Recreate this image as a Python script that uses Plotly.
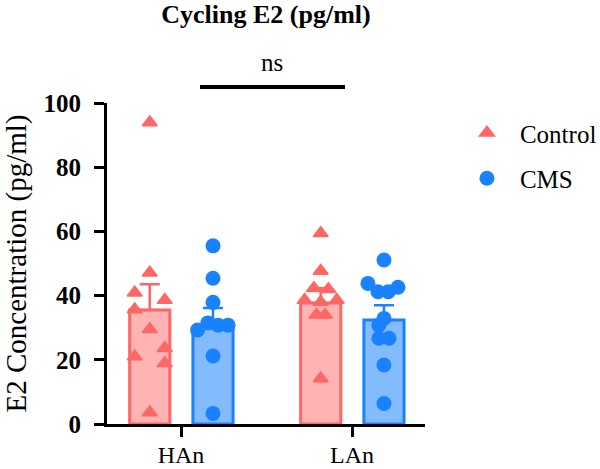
import numpy as np
import plotly.graph_objects as go

categories = ["HAn", "LAn"]
series_names = ["Control", "CMS"]

# bar heights (means) and SEM
control_mean = [35.5, 37.7]
control_sem = [8.0, 4.6]
cms_mean = [29.9, 32.4]
cms_sem = [6.2, 4.6]

# individual points
han_control = [93.9, 47.1, 40.9, 38.6, 35.7, 29.5, 23.6, 21.0, 18.9, 3.6]
lan_control = [59.4, 47.7, 42.3, 42.0, 38.6, 38.6, 38.0, 34.0, 34.0, 14.2]
han_cms = [55.5, 45.4, 37.9, 31.5, 29.3, 30.8, 30.8, 21.2, 3.3]
lan_cms = [51.1, 43.8, 42.6, 41.2, 41.2, 32.9, 30.8, 26.7, 26.7, 18.4, 6.4]

y_ticks = [0, 20, 40, 60, 80, 100]

# ---- layout / style (not data) ----
pos = np.arange(len(categories))
bar_w = 0.235
ctrl_center = -0.183
cms_center = 0.187
# horizontal scatter (jitter) of the points, in axis units
han_control_jit = [0, 0, -0.088, 0.088, -0.088, 0, 0.088, -0.088, 0.088, 0]
lan_control_jit = [0, 0, -0.04, 0.045, -0.094, 0.094, 0, -0.025, 0.025, 0]
han_cms_jit = [0, 0, 0, -0.03, -0.09, 0.03, 0.088, 0, 0]
lan_cms_jit = [0, -0.094, 0.082, -0.035, 0.025, 0, -0.03, -0.03, 0.03, 0, 0]

RED = "#FF6666"
RED_FILL = "#FFB3B3"
BLUE = "#1A82FF"
BLUE_FILL = "#82BCFF"
FONT = "Liberation Serif"

fig = go.Figure()

fig.add_trace(go.Bar(
    x=pos, y=control_mean, width=bar_w, offset=ctrl_center - bar_w / 2,
    marker=dict(color=RED_FILL, line=dict(color=RED, width=3)),
    error_y=dict(type="data", symmetric=False, array=control_sem,
                 arrayminus=[0] * len(control_sem), color=RED, thickness=2.5, width=10),
    showlegend=False, name="Control"))
fig.add_trace(go.Bar(
    x=pos, y=cms_mean, width=bar_w, offset=cms_center - bar_w / 2,
    marker=dict(color=BLUE_FILL, line=dict(color=BLUE, width=3)),
    error_y=dict(type="data", symmetric=False, array=cms_sem,
                 arrayminus=[0] * len(cms_sem), color=BLUE, thickness=2.5, width=10),
    showlegend=False, name="CMS"))

ctrl_x = np.concatenate([pos[0] + ctrl_center + np.array(han_control_jit),
                         pos[1] + ctrl_center + np.array(lan_control_jit)])
ctrl_y = han_control + lan_control
cms_x = np.concatenate([pos[0] + cms_center + np.array(han_cms_jit),
                        pos[1] + cms_center + np.array(lan_cms_jit)])
cms_y = han_cms + lan_cms

fig.add_trace(go.Scatter(
    x=ctrl_x, y=ctrl_y, mode="markers", name="Control", legendgroup="a",
    marker=dict(symbol="triangle-up", size=13, color=RED, line=dict(color=RED, width=1.5)),
    cliponaxis=False))
fig.add_trace(go.Scatter(
    x=cms_x, y=cms_y, mode="markers", name="CMS", legendgroup="b",
    marker=dict(symbol="circle", size=15, color=BLUE),
    cliponaxis=False))

# significance bar
fig.add_shape(type="line", xref="x", yref="paper", x0=0.111, x1=0.959,
              y0=1.05, y1=1.05, line=dict(color="black", width=4))
fig.add_annotation(xref="x", yref="paper", x=0.53, y=1.125, yanchor="middle",
                   text="ns", showarrow=False,
                   font=dict(family=FONT, size=25, color="black"))

fig.update_layout(
    width=600, height=469,
    margin=dict(l=107, r=175, t=103, b=45, autoexpand=False),
    plot_bgcolor="white", paper_bgcolor="white",
    barmode="overlay",
    title=dict(text="<b>Cycling E2 (pg/ml)</b>", x=0.5, xref="paper",
               y=0.989, yref="container", yanchor="top",
               font=dict(family=FONT, size=26, color="black")),
    legend=dict(x=1.091, y=0.978, xanchor="left", yanchor="top",
                font=dict(family=FONT, size=25, color="black"),
                itemwidth=56,
                traceorder="grouped", tracegroupgap=10, bgcolor="rgba(0,0,0,0)"),
    font=dict(family=FONT, color="black"),
)
fig.update_xaxes(range=[-0.433, 1.427], tickvals=pos, ticktext=categories,
                 showline=True, linecolor="black", linewidth=3,
                 ticks="outside", ticklen=10, tickwidth=3, tickcolor="black",
                 ticklabelstandoff=-3, automargin=False,
                 tickfont=dict(family=FONT, size=24, color="black"),
                 showgrid=False, zeroline=False)
fig.update_yaxes(range=[0, 100], tickvals=y_ticks,
                 showline=True, linecolor="black", linewidth=3,
                 ticks="outside", ticklen=10, tickwidth=3, tickcolor="black",
                 ticklabelstandoff=8, automargin=False,
                 tickfont=dict(family=FONT, size=25, color="black", weight="bold"),
                 title=dict(text="E2 Concentration (pg/ml)", standoff=21,
                            font=dict(family=FONT, size=29, color="black")),
                 showgrid=False, zeroline=False)

# remove the browser's default 8px page margin so the figure fills the window
fig.write_html("out.html", config={"displayModeBar": False},
               post_script="document.body.style.margin='0';")
